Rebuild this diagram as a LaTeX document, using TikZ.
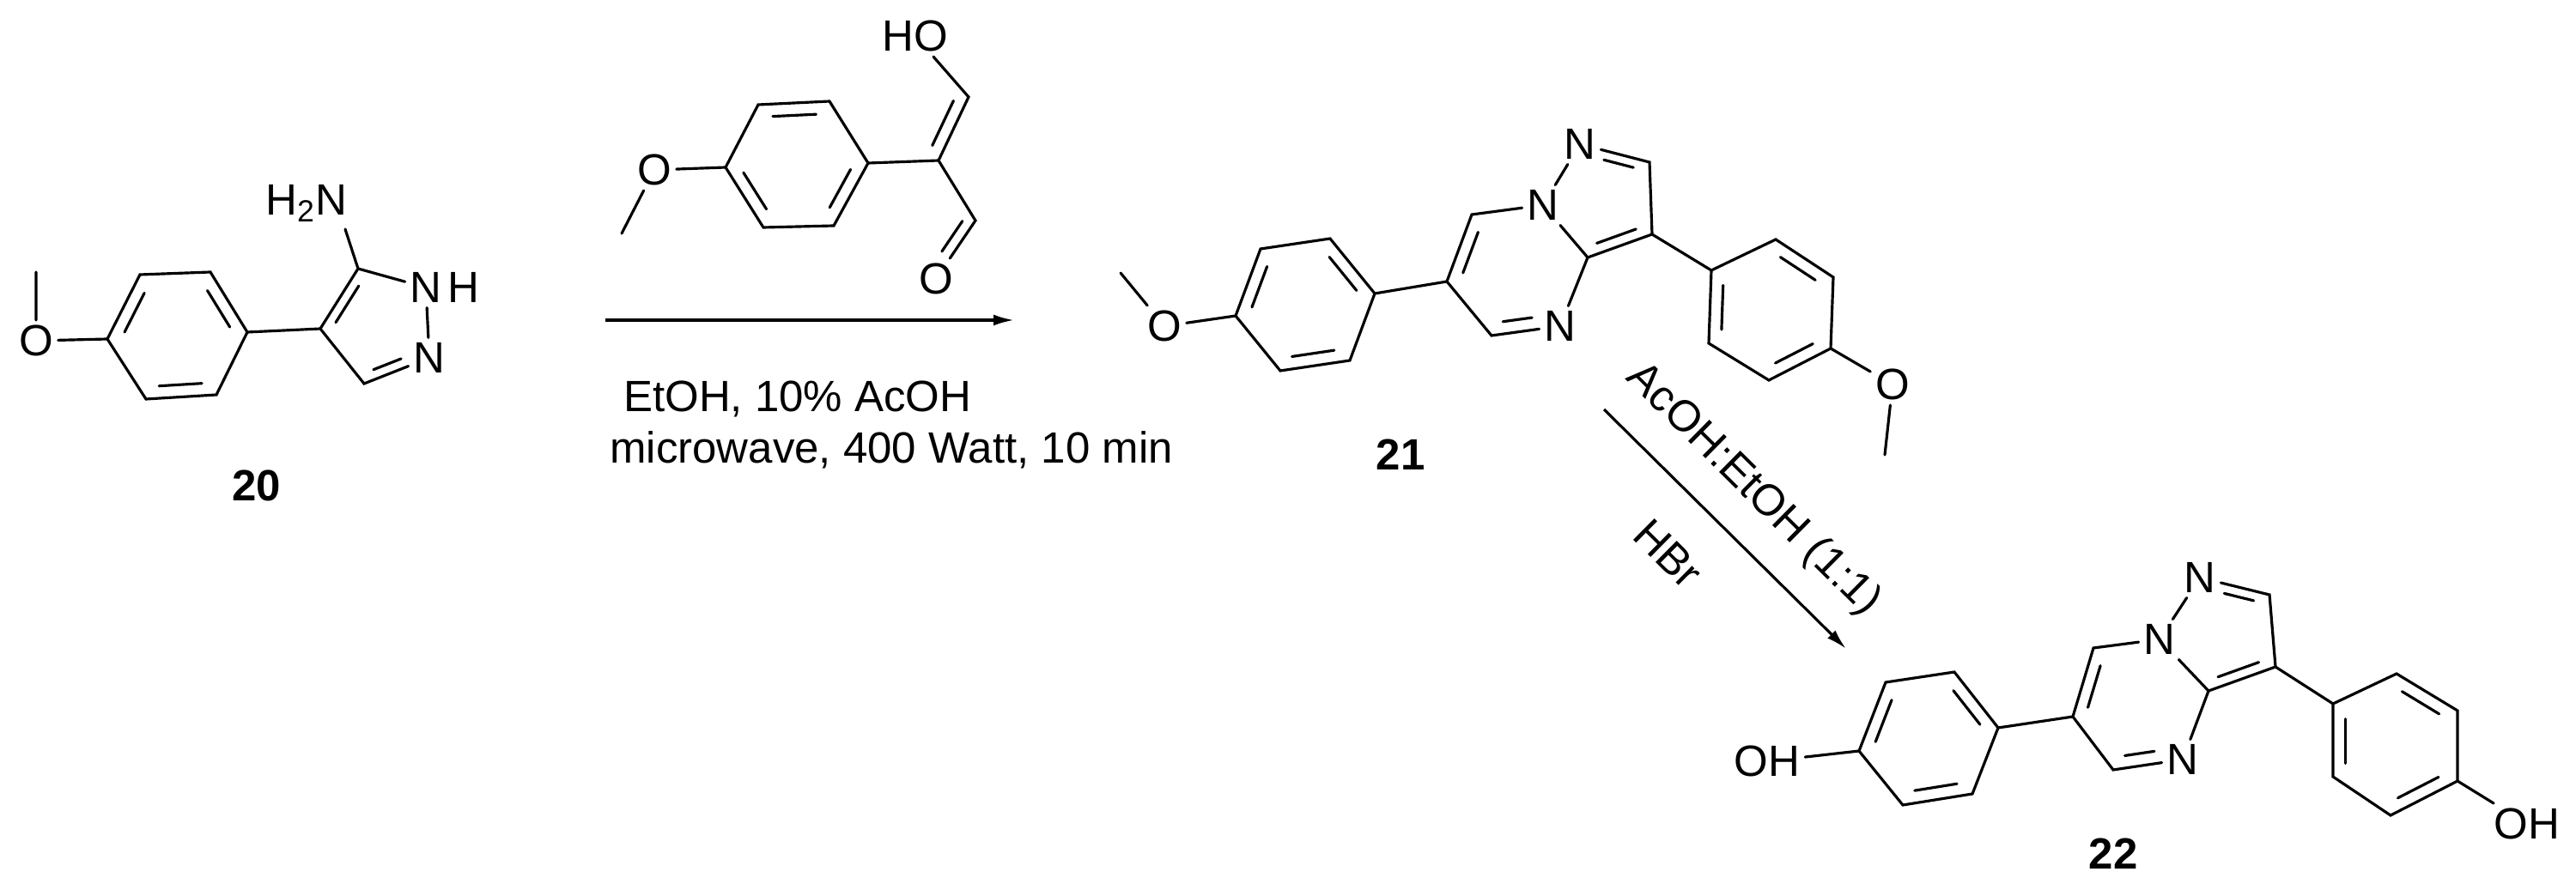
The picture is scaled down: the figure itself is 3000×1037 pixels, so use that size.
\documentclass[tikz,border=0pt]{standalone}
\usepackage{fontspec}
\setmainfont{Liberation Sans}
\usetikzlibrary{calc,arrows.meta}
\newcommand\chemfont{\fontsize{14.5}{17}\selectfont}
\newcommand\dbin[5]{%
  \coordinate (dbp) at ($(#1)!0.2!(#3)$);
  \coordinate (dbq) at ($(#2)!0.2!(#3)$);
  \draw[bond] ($(dbp)!#4!(dbq)$) -- ($(dbq)!#5!(dbp)$);}
\begin{document}
\begin{tikzpicture}[x=0.01cm,y=-0.01cm,
  bond/.style={line width=0.9pt,line cap=round},
  atom/.style={font=\chemfont,inner sep=1.5pt},
  cpd/.style={font=\chemfont\bfseries,inner sep=1pt},
  cond/.style={font=\chemfont,inner sep=1pt},
  rxn/.style={line width=0.9pt,-{Latex[length=0.24cm,width=0.13cm]}}]
\useasboundingbox (0,0) rectangle (3000,1037);
% ---------- compound 20
\coordinate (a1) at (163,320); \coordinate (a2) at (245,317);
\coordinate (a3) at (288,387); \coordinate (a4) at (252,460);
\coordinate (a5) at (170,465); \coordinate (a6) at (125,395);
\coordinate (ac) at (207,391);
\node[atom] (aO) at (42,397) {O};
\coordinate (aMe) at (42,317);
\coordinate (p4) at (373,383); \coordinate (p5) at (417,313);
\node[atom] (pN1) at (496,335) {N};
\node[atom,anchor=west,inner sep=0pt] (pH) at (pN1.east) {H};
\node[atom] (pN2) at (500,417) {N};
\coordinate (p3) at (424,447);
\coordinate (pc) at (442,380);
\node[atom] (pNH2) at (357,237) {H\textsubscript{2}N};
\coordinate (pNb) at (402,267);
\draw[bond] (a1)--(a2)--(a3)--(a4)--(a5)--(a6)--cycle;
\dbin{a6}{a1}{ac}{0.12}{0.12}
\dbin{a2}{a3}{ac}{0.12}{0.12}
\dbin{a4}{a5}{ac}{0.12}{0.12}
\draw[bond] (aMe)--(aO)--(a6);
\draw[bond] (a3)--(p4)--(p5)--(pN1)--(pN2)--(p3)--(p4);
\dbin{p4}{p5}{pc}{0.12}{0.12}
\dbin{p3}{pN2}{pc}{0.12}{0.35}
\draw[bond] (p5)--(pNb);
\node[cpd] (l20) at (299,566) {20};
% ---------- reagent
\coordinate (r1) at (883,122); \coordinate (r2) at (966,118);
\coordinate (r3) at (1011,190); \coordinate (r4) at (971,263);
\coordinate (r5) at (889,265); \coordinate (r6) at (845,195);
\coordinate (rc) at (928,192);
\node[atom] (rO) at (762,198) {O};
\coordinate (rMe) at (724,272);
\coordinate (rC2) at (1093,187); \coordinate (rCH) at (1128,113);
\node[atom] (rHO) at (1066,42) {HO};
\coordinate (rCHO) at (1136,257);
\node[atom] (rO2) at (1090,325) {O};
\coordinate (rs1) at (1040,135); \coordinate (rs2) at (1060,260);
\draw[bond] (r1)--(r2)--(r3)--(r4)--(r5)--(r6)--cycle;
\dbin{r1}{r2}{rc}{0.12}{0.12}
\dbin{r3}{r4}{rc}{0.12}{0.12}
\dbin{r5}{r6}{rc}{0.12}{0.12}
\draw[bond] (rMe)--(rO)--(r6);
\draw[bond] (r3)--(rC2)--(rCH)--(rHO);
\dbin{rC2}{rCH}{rs1}{0.12}{0.0}
\draw[bond] (rC2)--(rCHO)--(rO2);
\dbin{rCHO}{rO2}{rs2}{0.0}{0.35}
% ---------- arrow 1
\coordinate (ar1s) at (705,373);
\coordinate (ar1e) at (1181,373);
\draw[rxn] (ar1s)--(ar1e);
\node[cond,anchor=base west] (t1) at (722,480) {EtOH, 10\% AcOH};
\node[cond,anchor=base west] (t2) at (706,540) {microwave, 400 Watt, 10 min};
% ---------- compound 21
\coordinate (b1) at (1468,290); \coordinate (b2) at (1549,278);
\coordinate (b3) at (1601,342); \coordinate (b4) at (1572,420);
\coordinate (b5) at (1491,432); \coordinate (b6) at (1439,368);
\coordinate (bc) at (1520,355);
\node[atom] (bO) at (1356,380) {O};
\coordinate (bMe) at (1305,318);
\coordinate (q6) at (1685,328); \coordinate (q5) at (1714,250);
\node[atom] (qNb) at (1797,239) {N};
\node[atom] (qN1) at (1840,168) {N};
\coordinate (q2) at (1921,189); \coordinate (q3) at (1924,273);
\coordinate (q3a) at (1849,300);
\node[atom] (qN7) at (1817,380) {N};
\coordinate (q7) at (1737,391);
\coordinate (qc6) at (1765,315); \coordinate (qc5) at (1866,230);
\coordinate (c1) at (1993,315); \coordinate (c2) at (2068,279);
\coordinate (c3) at (2135,323); \coordinate (c4) at (2132,406);
\coordinate (c5) at (2060,443); \coordinate (c6) at (1990,400);
\coordinate (cc) at (2063,361);
\node[atom] (cO) at (2204,448) {O};
\coordinate (cMe) at (2195,530);
\draw[bond] (b1)--(b2)--(b3)--(b4)--(b5)--(b6)--cycle;
\dbin{b6}{b1}{bc}{0.12}{0.12}
\dbin{b2}{b3}{bc}{0.12}{0.12}
\dbin{b4}{b5}{bc}{0.12}{0.12}
\draw[bond] (bMe)--(bO)--(b6);
\draw[bond] (b3)--(q6)--(q5)--(qNb)--(q3a)--(qN7)--(q7)--(q6);
\draw[bond] (qNb)--(qN1)--(q2)--(q3)--(q3a);
\dbin{q6}{q5}{qc6}{0.12}{0.12}
\dbin{q7}{qN7}{qc6}{0.12}{0.35}
\dbin{qN1}{q2}{qc5}{0.35}{0.12}
\dbin{q3}{q3a}{qc5}{0.12}{0.12}
\draw[bond] (q3)--(c1);
\draw[bond] (c1)--(c2)--(c3)--(c4)--(c5)--(c6)--cycle;
\dbin{c2}{c3}{cc}{0.12}{0.12}
\dbin{c6}{c1}{cc}{0.12}{0.12}
\dbin{c4}{c5}{cc}{0.12}{0.12}
\draw[bond] (c4)--(cO)--(cMe);
\node[cpd] (l21) at (1631,530) {21};
% ---------- arrow 2
\coordinate (ar2s) at (1868,477);
\coordinate (ar2e) at (2150,756);
\draw[rxn] (ar2s)--(ar2e);
\node[cond,rotate=-44.7] (t3) at (2042,571) {AcOH:EtOH (1:1)};
\node[cond,rotate=-44.7] (t4) at (1943,645) {HBr};
% ---------- compound 22
\coordinate (d1) at (2196,795); \coordinate (d2) at (2276,783);
\coordinate (d3) at (2327,848); \coordinate (d4) at (2297,925);
\coordinate (d5) at (2216,938); \coordinate (d6) at (2165,875);
\coordinate (dc) at (2246,860);
\node[atom] (dOH) at (2058,887) {OH};
\coordinate (s6) at (2414,835); \coordinate (s5) at (2438,755);
\node[atom] (sNb) at (2515,745) {N};
\node[atom] (sN1) at (2562,673) {N};
\coordinate (s2) at (2643,693); \coordinate (s3) at (2650,777);
\coordinate (s3a) at (2572,805);
\node[atom] (sN7) at (2542,885) {N};
\coordinate (s7) at (2461,897);
\coordinate (sc6) at (2490,820); \coordinate (sc5) at (2590,737);
\coordinate (e1) at (2717,820); \coordinate (e2) at (2791,785);
\coordinate (e3) at (2862,828); \coordinate (e4) at (2862,910);
\coordinate (e5) at (2784,950); \coordinate (e6) at (2717,905);
\coordinate (ec) at (2789,868);
\node[atom] (eOH) at (2943,960) {OH};
\draw[bond] (d1)--(d2)--(d3)--(d4)--(d5)--(d6)--cycle;
\dbin{d6}{d1}{dc}{0.12}{0.12}
\dbin{d2}{d3}{dc}{0.12}{0.12}
\dbin{d4}{d5}{dc}{0.12}{0.12}
\draw[bond] (dOH)--(d6);
\draw[bond] (d3)--(s6)--(s5)--(sNb)--(s3a)--(sN7)--(s7)--(s6);
\draw[bond] (sNb)--(sN1)--(s2)--(s3)--(s3a);
\dbin{s6}{s5}{sc6}{0.12}{0.12}
\dbin{s7}{sN7}{sc6}{0.12}{0.35}
\dbin{sN1}{s2}{sc5}{0.35}{0.12}
\dbin{s3}{s3a}{sc5}{0.12}{0.12}
\draw[bond] (s3)--(e1);
\draw[bond] (e1)--(e2)--(e3)--(e4)--(e5)--(e6)--cycle;
\dbin{e2}{e3}{ec}{0.12}{0.12}
\dbin{e6}{e1}{ec}{0.12}{0.12}
\dbin{e4}{e5}{ec}{0.12}{0.12}
\draw[bond] (e4)--(eOH);
\node[cpd] (l22) at (2461,995) {22};
\end{tikzpicture}
\end{document}
